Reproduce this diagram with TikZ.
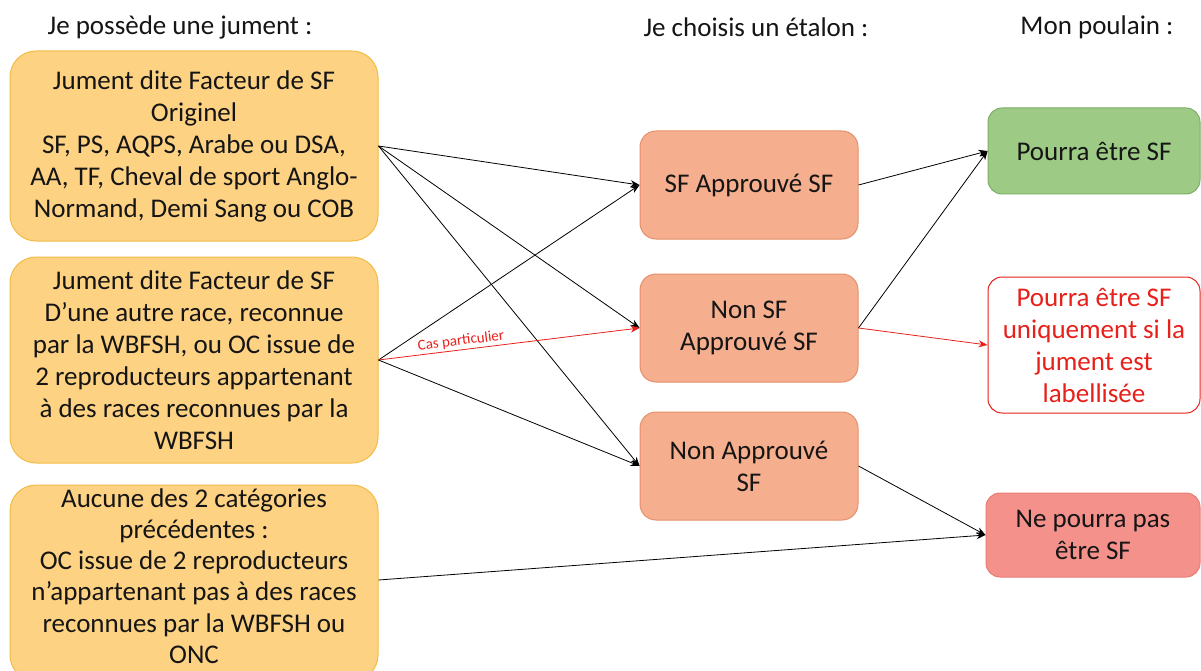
\documentclass[tikz,border=0pt]{standalone}
\usepackage{fontspec}
\setmainfont{Carlito}
\usetikzlibrary{arrows.meta}
\definecolor{mareF}{HTML}{FDD283}
\definecolor{mareD}{HTML}{F2BC45}
\definecolor{stalF}{HTML}{F5AE8E}
\definecolor{stalD}{HTML}{E5906A}
\definecolor{greenF}{HTML}{9DCB86}
\definecolor{greenD}{HTML}{7DAE67}
\definecolor{redT}{HTML}{E8201A}
\definecolor{noF}{HTML}{F4918B}
\definecolor{noD}{HTML}{E97C75}
\definecolor{txt}{HTML}{151515}
\tikzset{
  x=1pt,y=-1pt,
  base/.style={align=center,inner sep=0pt,text=txt,font=\fontsize{27}{32}\selectfont},
  mare/.style={base,draw=mareD,fill=mareF,line width=1pt,rounded corners=26pt,minimum width=368pt},
  stal/.style={base,draw=stalD,fill=stalF,line width=1pt,rounded corners=16pt,minimum width=218pt,minimum height=108pt},
  res/.style={base,rounded corners=14pt,minimum width=212pt,line width=1pt},
  head/.style={base,font=\fontsize{27}{30}\selectfont},
  arr/.style={-{Stealth[length=9pt,width=7pt]},line width=0.8pt,draw=black},
  rarr/.style={-{Stealth[length=9pt,width=7pt]},line width=0.8pt,draw=redT},
}
\begin{document}
\begin{tikzpicture}
\useasboundingbox (0,0) rectangle (1201,671);
\clip (0,0) rectangle (1201,671);
\node[head] (h1) at (180,27) {Je possède une jument :};
\node[head] (h2) at (756,27) {Je choisis un étalon :};
\node[head] (h3) at (1097,27) {Mon poulain :};

\node[mare,minimum height=190pt] (b1) at (194,146) {Jument dite Facteur de SF\\Originel\\SF, PS, AQPS, Arabe ou DSA,\\AA, TF, Cheval de sport Anglo-\\Normand, Demi Sang ou COB};
\node[mare,minimum height=206pt] (b2) at (194,360) {Jument dite Facteur de SF\\D’une autre race, reconnue\\par la WBFSH, ou OC issue de\\2 reproducteurs appartenant\\à des races reconnues par la\\WBFSH};
\node[mare,minimum height=196pt] (b3) at (194,583) {};
\node[base,font=\fontsize{27}{31.2}\selectfont] (b3t) at (194,576) {Aucune des 2 catégories\\précédentes :\\OC issue de 2 reproducteurs\\n’appartenant pas à des races\\reconnues par la WBFSH ou\\ONC};

\node[stal] (sfa) at (749,185) {SF Approuvé SF};
\node[stal] (nsf) at (749,328) {Non SF\\Approuvé SF};
\node[stal] (na) at (749,466) {Non Approuvé\\SF};

\node[res,draw=greenD,fill=greenF,minimum height=86pt] (ok) at (1094,151) {Pourra être SF};
\node[res,draw=redT,fill=white,text=redT,minimum height=136pt] (cond) at (1094,345) {Pourra être SF\\uniquement si la\\jument est\\labellisée};
\node[res,draw=noD,fill=noF,minimum height=84pt,minimum width=214pt] (no) at (1093,535) {Ne pourra pas\\être SF};

\draw[arr] (b1.east) -- (sfa.west);
\draw[arr] (b1.east) -- (nsf.west);
\draw[arr] (b1.east) -- (na.west);
\draw[arr] (b2.east) -- (sfa.west);
\draw[rarr] (b2.east) -- node[pos=0.32,above,sloped,inner sep=2pt,text=redT,font=\fontsize{15}{17}\selectfont] {Cas particulier} (nsf.west);
\draw[arr] (b2.east) -- (na.west);
\draw[arr] (b3.east |- 0,580) -- (no.west);
\draw[arr] (sfa.east) -- (ok.west);
\draw[arr] (nsf.east) -- (ok.west);
\draw[rarr] (nsf.east) -- (cond.west);
\draw[arr] (na.east) -- (no.west);
\end{tikzpicture}
\end{document}
